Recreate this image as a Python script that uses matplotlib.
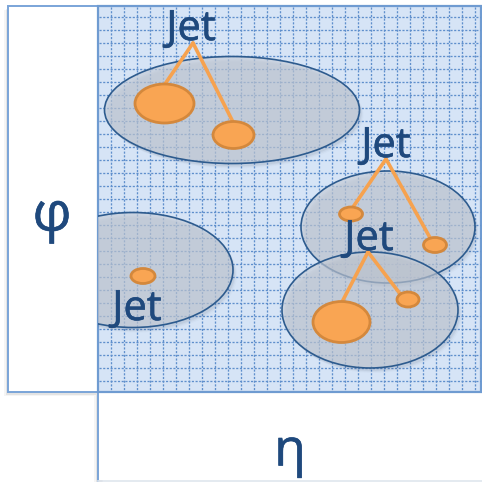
import numpy as np
import matplotlib
matplotlib.use("Agg")
import matplotlib.pyplot as plt
import matplotlib.patheffects as pe
from matplotlib.patches import Ellipse, Rectangle

# ---- data (pixel space of the diagram) ----
jet_labels = ["Jet", "Jet", "Jet", "Jet"]
cone_x = [232, 388, 370, 133]
cone_y = [110, 227, 310, 270]
cone_w = [255, 174, 176, 200]
cone_h = [107, 112, 116, 115]

label_x = [191, 386, 369, 137]
label_y = [40, 157, 250, 320]
apex_x = [193, 386, 368, None]
apex_y = [43, 159, 252, None]

# particles: (jet index, x, y, w, h)
part_jet = [0, 0, 1, 1, 2, 2, 3]
part_x = [164.5, 233.5, 351, 435, 341.5, 408, 143]
part_y = [103.5, 135, 214, 245, 322, 299.5, 276]
part_w = [59, 41, 23, 23, 57, 22, 24]
part_h = [39, 27, 14, 15, 41, 15, 15]
# line end points at particle tops
end_x = [165, 233, 351, 433, 342, 401, None]
end_y = [84, 122, 210, 243, 302, 295, None]

axis_phi = "φ"
axis_eta = "η"

W = 482
fig = plt.figure(figsize=(4.82, 4.82), dpi=100)
ax = fig.add_axes([0, 0, 1, 1])
ax.set_xlim(0, W)
ax.set_ylim(W, 0)
ax.axis("off")

PX, PY, PR, PB = 98, 6, 481, 392
blue_edge = "#7aa4d8"
txt_col = "#1f497d"

# shadows of boxes
for k, a in enumerate([0.10, 0.07, 0.04]):
    d = 1 + k * 1.5
    ax.add_patch(Rectangle((8 - d, PY + d), PX - 8, PB - PY, fc="#000000",
                           ec="none", alpha=a, zorder=0.5))
    ax.add_patch(Rectangle((PX - d, PB), 6, W - PB, fc="#000000",
                           ec="none", alpha=a, zorder=0.5))

# left box (phi)
ax.add_patch(Rectangle((8, PY), PX - 8, PB - PY, fc="white", ec=blue_edge,
                       lw=1.4, zorder=1))
# bottom box (eta)
ax.add_patch(Rectangle((PX, PB), W - PX + 5, 88, fc="white", ec="none",
                       zorder=1))
ax.plot([PX, PX], [PB, W], color=blue_edge, lw=1.4, zorder=1.2)
ax.plot([PX, W], [480.5, 480.5], color="#dfe6ee", lw=1.2, zorder=1.2)
# plot area
plot_rect = Rectangle((PX, PY), PR - PX, PB - PY, fc="#d6e4f6", ec="#6f9bd1",
                      lw=1.6, zorder=2)
ax.add_patch(plot_rect)

# dotted grid
grid_col = "#5f8fcc"
for gx in np.arange(111, 476, 13.0):
    ax.plot([gx, gx], [PY + 1, PB - 1], color=grid_col, lw=0.95,
            ls=(0, (1.6, 1.2)), zorder=3)
for gy in np.arange(16.7, 382, 13.0):
    ax.plot([PX + 1, PR - 1], [gy, gy], color=grid_col, lw=0.95,
            ls=(0, (1.6, 1.2)), zorder=3)

clip_rect = Rectangle((PX, PY), PR - PX, PB - PY, transform=ax.transData)

# cones
for i in [0, 3, 1, 2]:
    for k, a in enumerate([0.07, 0.045, 0.025]):
        sh = Ellipse((cone_x[i] + 2 + k, cone_y[i] + 3 + k), cone_w[i],
                     cone_h[i], fc="#33405a", ec="none", alpha=a, zorder=4)
        ax.add_patch(sh)
        sh.set_clip_path(clip_rect)
    e = Ellipse((cone_x[i], cone_y[i]), cone_w[i], cone_h[i], fc="#c5cbd5",
                ec="none", alpha=0.65, zorder=4)
    ax.add_patch(e)
    e.set_clip_path(clip_rect)
    e2 = Ellipse((cone_x[i], cone_y[i]), cone_w[i], cone_h[i], fc="none",
                 ec="#2d5b8e", lw=1.2, zorder=4)
    ax.add_patch(e2)
    e2.set_clip_path(clip_rect)

# lines from labels to particles
for j in range(len(part_x)):
    jet = part_jet[j]
    if apex_x[jet] is None or end_x[j] is None:
        continue
    ax.plot([apex_x[jet], end_x[j]], [apex_y[jet], end_y[j]],
            color="#f6a24f", lw=2.6, solid_capstyle="round", zorder=5)

# particles
for j in range(len(part_x)):
    p = Ellipse((part_x[j], part_y[j]), part_w[j], part_h[j], fc="#f9a553",
                ec="#d4883c", lw=2.0, zorder=6)
    ax.add_patch(p)

thin = [pe.withStroke(linewidth=0.45, foreground=txt_col)]

# jet labels
for i in range(len(jet_labels)):
    ax.text(label_x[i], label_y[i], jet_labels[i], fontsize=30,
            family=["Open Sans", "DejaVu Sans"], color=txt_col, ha="center",
            va="baseline", zorder=7, path_effects=thin)

ax.text(52, 216, axis_phi, fontsize=39, family=["Open Sans", "DejaVu Sans"],
        color=txt_col, ha="center", va="center", zorder=7, path_effects=thin)
ax.text(290, 452, axis_eta, fontsize=37, family=["Open Sans", "DejaVu Sans"],
        color=txt_col, ha="center", va="center", zorder=7, path_effects=thin)

fig.savefig("out.png", dpi=100)
